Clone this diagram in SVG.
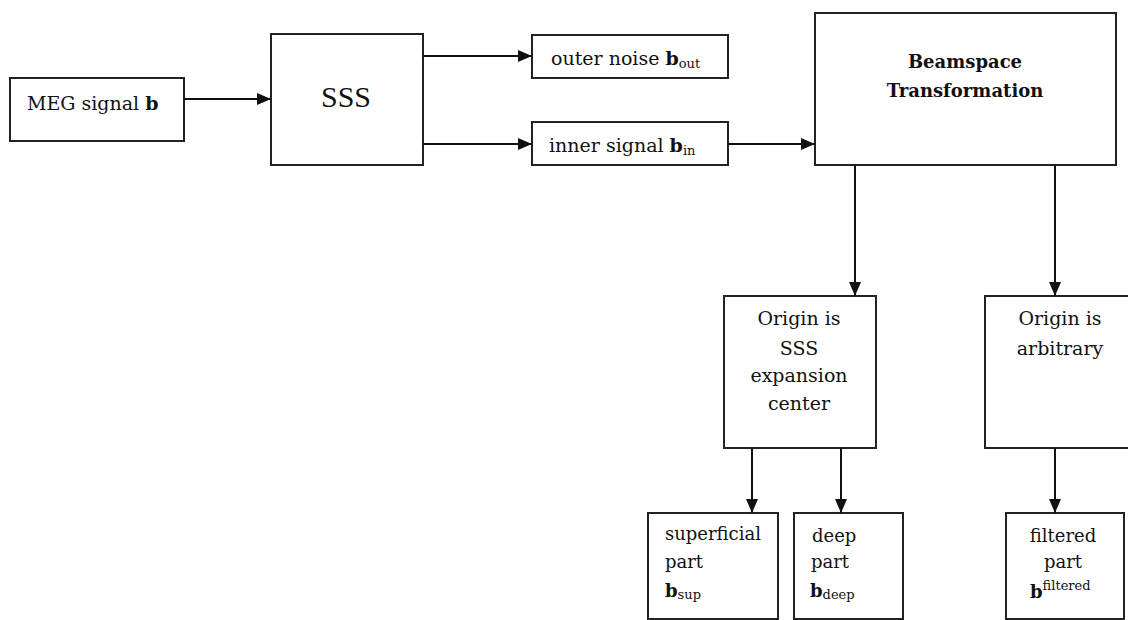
<svg xmlns="http://www.w3.org/2000/svg" width="1128" height="620" viewBox="0 0 1128 620">
<defs>
<marker id="ah" markerWidth="14" markerHeight="12" refX="14" refY="6" orient="auto" markerUnits="userSpaceOnUse">
<path d="M0,0 L14,6 L0,12 Z" fill="#111"/>
</marker>
<style>
.box{fill:#fff;stroke:#222;stroke-width:2}
.t{font-family:"DejaVu Serif","Liberation Serif",serif;font-size:19px;fill:#111}
.s{font-size:18px}
.b{font-weight:bold}
.sub{font-size:13px}
.c{text-anchor:middle}
.ln{stroke:#111;stroke-width:2;fill:none}
</style>
</defs>
<rect width="1128" height="620" fill="#fff"/>
<g id="meg">
<rect class="box" x="10" y="78" width="174" height="63"/>
<text class="t" x="27" y="110">MEG signal <tspan class="b">b</tspan></text>
</g>
<g id="sss">
<rect class="box" x="271" y="34" width="152" height="131"/>
<text class="t c" x="346" y="107" style="font-family:'Liberation Serif',serif;font-size:30px">SSS</text>
</g>
<g id="outer">
<rect class="box" x="532" y="35" width="196" height="43"/>
<text class="t" x="551" y="65">outer noise <tspan class="b">b</tspan><tspan class="sub" dy="3">out</tspan></text>
</g>
<g id="inner">
<rect class="box" x="532" y="122" width="196" height="43"/>
<text class="t" x="549" y="152">inner signal <tspan class="b">b</tspan><tspan class="sub" dy="3">in</tspan></text>
</g>
<g id="beamspace">
<rect class="box" x="815" y="13" width="301" height="152"/>
<text class="t b c" x="965" y="68" style="font-size:18px">Beamspace</text>
<text class="t b c" x="965" y="97" style="font-size:18px">Transformation</text>
</g>
<g id="origin-sss">
<rect class="box" x="724" y="296" width="152" height="152"/>
<text class="t c" x="799" y="325">Origin is</text>
<text class="t c" x="799" y="355">SSS</text>
<text class="t c" x="799" y="382">expansion</text>
<text class="t c" x="799" y="410">center</text>
</g>
<g id="origin-arb">
<rect class="box" x="985" y="296" width="150" height="152"/>
<text class="t c" x="1060" y="325">Origin is</text>
<text class="t c" x="1060" y="355">arbitrary</text>
</g>
<g id="superficial">
<rect class="box" x="648" y="513" width="130" height="106"/>
<text class="t s" x="665" y="540">superficial</text>
<text class="t s" x="665" y="568">part</text>
<text class="t s" x="665" y="597"><tspan class="b">b</tspan><tspan class="sub" dy="2">sup</tspan></text>
</g>
<g id="deep">
<rect class="box" x="794" y="513" width="109" height="106"/>
<text class="t s" x="812" y="542">deep</text>
<text class="t s" x="811" y="568">part</text>
<text class="t s" x="810" y="597"><tspan class="b">b</tspan><tspan class="sub" dy="2">deep</tspan></text>
</g>
<g id="filtered">
<rect class="box" x="1006" y="513" width="118" height="106"/>
<text class="t s c" x="1063" y="542">filtered</text>
<text class="t s c" x="1063" y="568">part</text>
<text class="t s" x="1030" y="598"><tspan class="b">b</tspan><tspan class="sub" dy="-8">filtered</tspan></text>
</g>
<g id="connectors">
<line class="ln" x1="184" y1="99" x2="271" y2="99" marker-end="url(#ah)"/>
<line class="ln" x1="423" y1="56" x2="532" y2="56" marker-end="url(#ah)"/>
<line class="ln" x1="423" y1="144" x2="532" y2="144" marker-end="url(#ah)"/>
<line class="ln" x1="728" y1="144" x2="815" y2="144" marker-end="url(#ah)"/>
<line class="ln" x1="855" y1="165" x2="855" y2="296" marker-end="url(#ah)"/>
<line class="ln" x1="1055" y1="165" x2="1055" y2="296" marker-end="url(#ah)"/>
<line class="ln" x1="752" y1="448" x2="752" y2="513" marker-end="url(#ah)"/>
<line class="ln" x1="841" y1="448" x2="841" y2="513" marker-end="url(#ah)"/>
<line class="ln" x1="1055" y1="448" x2="1055" y2="513" marker-end="url(#ah)"/>
</g>
</svg>
